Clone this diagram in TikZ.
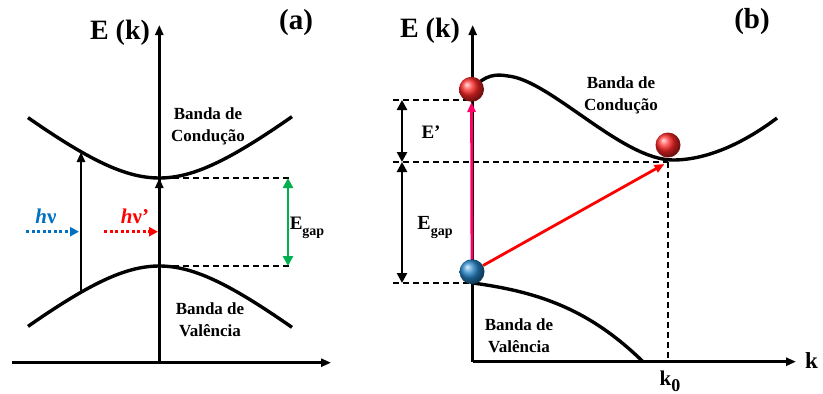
\documentclass[tikz,border=0pt]{standalone}
\usepackage{fontspec}
\setmainfont{Liberation Serif}
\usetikzlibrary{arrows.meta,positioning,calc}
\definecolor{photonBlue}{RGB}{0,112,192}
\definecolor{photonRed}{RGB}{255,0,0}
\definecolor{gapGreen}{RGB}{0,176,80}
\definecolor{jumpPink}{RGB}{255,0,102}
\newcommand{\fsz}[1]{\bfseries\fontsize{#1}{#1}\selectfont}
\newcommand{\sub}[2]{\raisebox{-0.3em}{\fontsize{#1}{#1}\selectfont #2}}

\begin{document}
\begin{tikzpicture}[x=1pt,y=-1pt,
  axis/.style={line width=2.8pt,-{Triangle[length=10pt,width=8pt]}},
  band/.style={line width=3.4pt},
  guide/.style={line width=1.5pt,dash pattern=on 6pt off 4pt},
  gaparrow/.style={line width=2.8pt,{Triangle[length=10pt,width=10pt]}-{Triangle[length=10pt,width=10pt]}},
  photon/.style={line width=3pt,dash pattern=on 3pt off 2.5pt,-{Triangle[length=9pt,width=9pt]}},
  jump/.style={line width=2.8pt,-{Triangle[length=10pt,width=8pt]}},
  bandlbl/.style={font=\bfseries\fontsize{17}{22}\selectfont,align=center,inner sep=0pt},
  ball/.style={circle,minimum size=25pt,inner sep=0pt}]
\useasboundingbox (0,0) rectangle (823,394);

% ---- (a) direct gap
\coordinate (oA) at (159.3,362.7);
\coordinate (yA) at (159.3,25);
\coordinate (xA0) at (12,362.7);
\coordinate (xA1) at (331,362.7);
\coordinate (cminA) at (159.3,178);
\coordinate (vmaxA) at (159.3,266);
\coordinate (cleftA) at (81,152);
\coordinate (vleftA) at (81,292);
\coordinate (dc0) at (173,178);
\coordinate (dc1) at (290,178);
\coordinate (dv0) at (173,266);
\coordinate (dv1) at (290,266);
\coordinate (gtop) at (288,178);
\coordinate (gbot) at (288,266);
\coordinate (blue0) at (26,231.7);
\coordinate (blue1) at (79,231.7);
\coordinate (red0) at (104,231.7);
\coordinate (red1) at (158,231.7);

\draw[axis] (xA0) -- (xA1);
\draw[axis] (oA) -- (yA);
\draw[band] plot[domain=28:292,samples=60] (\x,{178-63.5*(sqrt(1+(0.012756*(\x-159.3))^2)-1)});
\draw[band] plot[domain=28:292,samples=60] (\x,{266+63.5*(sqrt(1+(0.012756*(\x-159.3))^2)-1)});
\draw[jump] (vleftA) -- (cleftA);
\draw[jump] (vmaxA) -- (cminA);
\draw[guide] (dc0) -- (dc1);
\draw[guide] (dv0) -- (dv1);
\draw[gaparrow,draw=gapGreen,fill=gapGreen] (gtop) -- (gbot);
\draw[photon,photonBlue] (blue0) -- (blue1);
\draw[photon,photonRed] (red0) -- (red1);

\node[font=\fsz{28}] (EkA) at (120,33) {E (k)};
\node[font=\fsz{29}] (labA) at (296,23) {(a)};
\node[bandlbl] (condA) at (208,126) {Banda de\\Condução};
\node[bandlbl] (valA) at (210,320) {Banda de\\Valência};
\node[font=\fsz{19}] (gapA) at (307,228) {E\sub{14}{gap}};
\node[font=\fsz{21},text=photonBlue] (hnu) at (46,216) {\textit{h}ν};
\node[font=\fsz{21},text=photonRed] (hnup) at (135,216) {\textit{h}ν’};

% ---- (b) indirect gap
\coordinate (oB) at (472.7,361.7);
\coordinate (yB) at (472.7,25);
\coordinate (xB) at (796,361.7);
\coordinate (vtopB) at (472.7,283);
\coordinate (vendB) at (643,361.7);
\coordinate (cminB) at (668,162);
\coordinate (k0B) at (668,361.7);
\coordinate (h100) at (393,100);
\coordinate (e100) at (472.7,100);
\coordinate (h162) at (393,162);
\coordinate (h283) at (393,283);
\coordinate (aTop) at (402,100);
\coordinate (aMid) at (402,162);
\coordinate (aBot) at (402,283);

\draw[axis] (oB) -- (xB);
\draw[axis] (oB) -- (yB);
\draw[band] (472.7,89) .. controls (485,74) and (497,74) .. (508,76)
  .. controls (550,80) and (622,160) .. (673,160)
  .. controls (710,160) and (748,140) .. (777,118);
\draw[band] (vtopB) .. controls (540,292) and (590,310) .. (vendB);
\draw[guide] (h100) -- (e100);
\draw[guide] (h162) -- (cminB);
\draw[guide] (h283) -- (vtopB);
\draw[guide] (cminB) -- (k0B);
\draw[gaparrow] (aTop) -- (aMid);
\draw[gaparrow] (aMid) -- (aBot);

\node[ball,ball color=red!85!white] (eTop) at (471.5,89.3) {};
\node[ball,ball color=red!85!white] (eMin) at (668,145) {};
\node[ball,ball color=photonBlue!85!white] (hole) at (472,271.7) {};
\draw[jump,jumpPink] (hole) -- (eTop);
\draw[jump,photonRed,shorten >=4pt] (hole) -- (cminB);

\node[font=\fsz{28}] (EkB) at (430,31) {E (k)};
\node[font=\fsz{29}] (labB) at (752,22) {(b)};
\node[bandlbl] (condB) at (621,95) {Banda de\\Condução};
\node[bandlbl] (valB) at (519,336) {Banda de\\Valência};
\node[font=\fsz{19}] (eprime) at (431,132) {E’};
\node[font=\fsz{20}] (gapB) at (435,227) {E\sub{14}{gap}};
\node[font=\fsz{23},anchor=west,inner sep=0pt] (kB) at (805,361) {k};
\node[font=\fsz{21}] (k0) at (670,381) {k\sub{18}{0}};
\end{tikzpicture}
\end{document}
